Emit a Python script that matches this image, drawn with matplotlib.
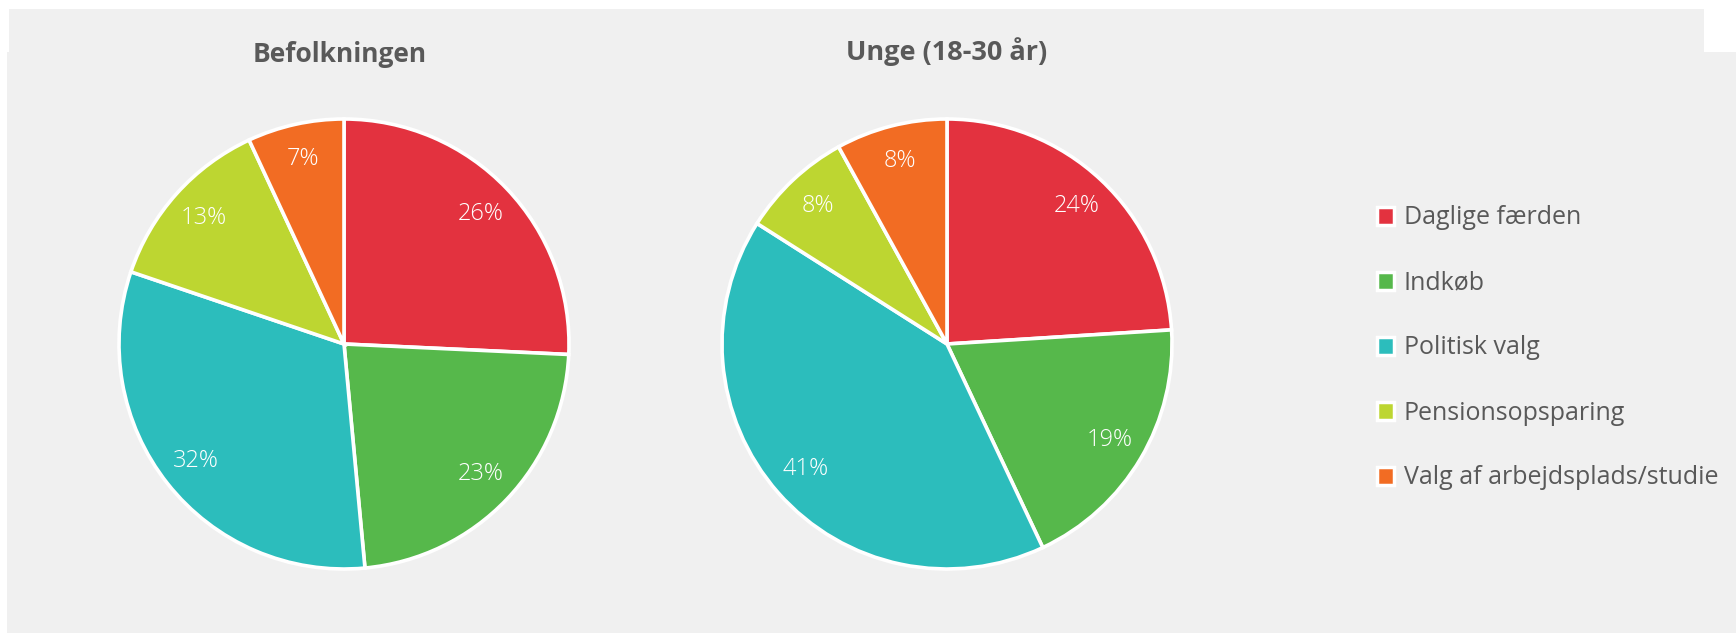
import matplotlib
matplotlib.use("Agg")
import matplotlib.pyplot as plt
from matplotlib.patches import Rectangle, Patch

plt.rcParams['font.family'] = ['Open Sans', 'DejaVu Sans']

categories = ["Daglige færden", "Indkøb", "Politisk valg", "Pensionsopsparing",
              "Valg af arbejdsplads/studie"]
befolkningen = [26, 23, 32, 13, 7]
unge = [24, 19, 41, 8, 8]
titles = ["Befolkningen", "Unge (18-30 år)"]
colors = ["#E3323F", "#56B84B", "#2CBDBC", "#BDD631", "#F26C23"]

W, H = 1736, 633
fig = plt.figure(figsize=(W / 100, H / 100), dpi=100, facecolor="white")
ax = fig.add_axes([0, 0, 1, 1])
ax.set_xlim(0, W)
ax.set_ylim(0, H)
ax.set_aspect("equal")
ax.axis("off")

grey = "#F0F0F0"
ax.add_patch(Rectangle((7, 0), W - 7, H - 52, facecolor=grey, edgecolor="none", zorder=0))
ax.add_patch(Rectangle((9, H - 52), 1704 - 9, 52 - 9, facecolor=grey, edgecolor="none", zorder=0))

centers = [(344, H - 344), (947, H - 344)]
title_pos = [(340, H - 55), (947, H - 52)]
title_sizes = [19, 19.5]
for vals, c, t, tp, ts in zip([befolkningen, unge], centers, titles, title_pos, title_sizes):
    wedges, texts, autotexts = ax.pie(
        vals, colors=colors, startangle=90, counterclock=False,
        center=c, radius=225, autopct=lambda p: f"{p:.0f}%", pctdistance=0.84,
        wedgeprops=dict(edgecolor="white", linewidth=2.6),
        textprops=dict(color="white", fontsize=17, fontweight="light"), frame=True)
    for i, at in enumerate(autotexts):
        at.set_text(f"{vals[i]}%")
    ax.text(tp[0], tp[1], t, ha="center", va="center", fontsize=ts,
            fontweight="bold", color="#595959")

ax.set_xlim(0, W)
ax.set_ylim(0, H)
ax.axis("off")

handles = [Patch(facecolor=col, edgecolor="white", linewidth=2.5) for col in colors]
leg = fig.legend(handles, categories, loc="center left",
                 bbox_to_anchor=(1354 / W, 1 - 348 / H), frameon=False,
                 fontsize=18, labelcolor="#595959", labelspacing=1.6,
                 handlelength=0.7, handleheight=0.7, handletextpad=0.4)

fig.savefig("out.png", dpi=100, facecolor="white")
